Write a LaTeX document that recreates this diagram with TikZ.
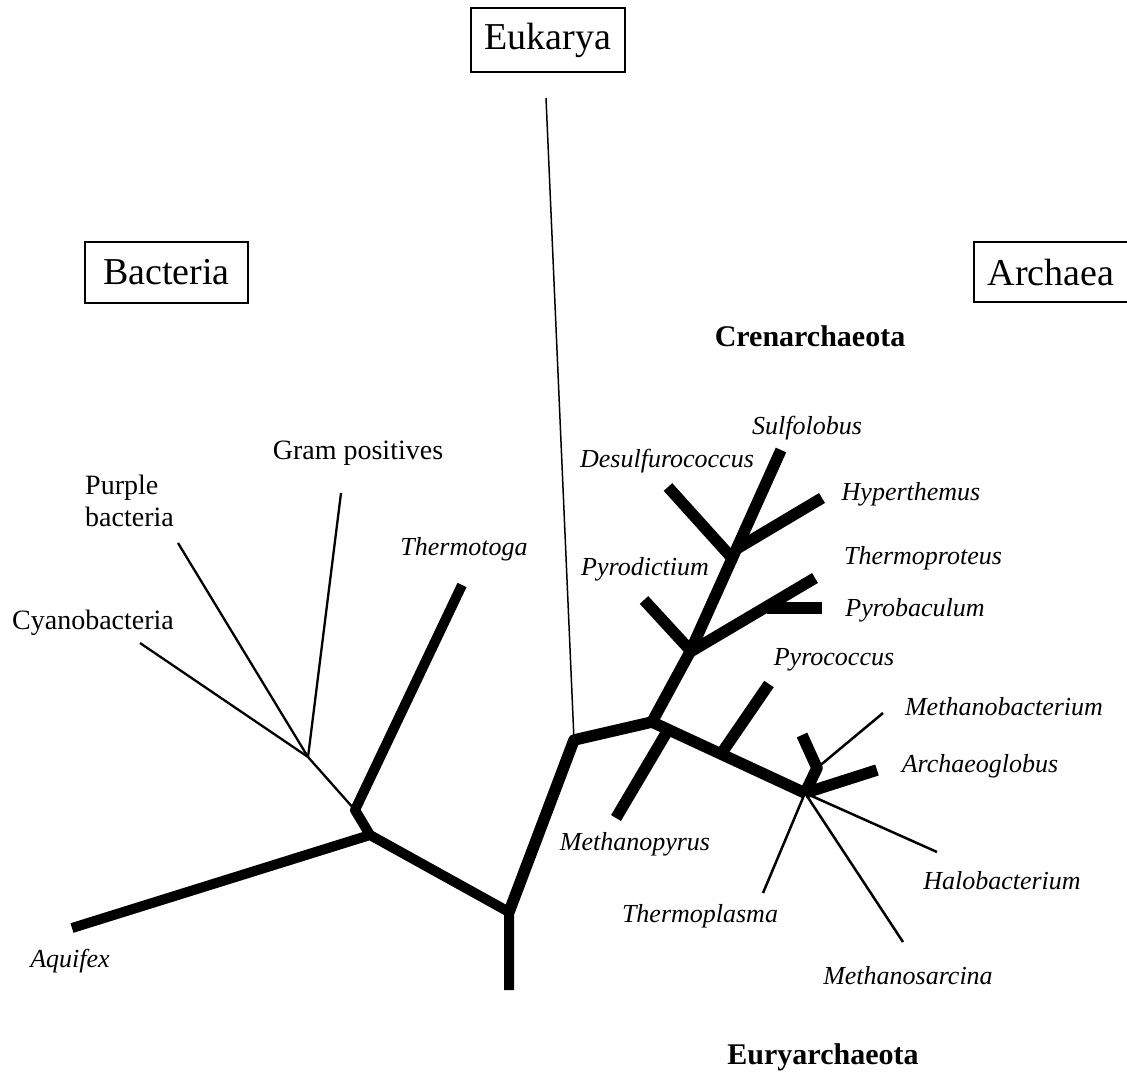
\documentclass[tikz,border=0pt]{standalone}
\usepackage{fontspec}
\setmainfont{Liberation Serif}
\begin{document}
\begin{tikzpicture}[x=1pt,y=-1pt,
  bact/.style={line width=10pt, line cap=butt, line join=round},
  arch/.style={line width=11.5pt, line cap=butt, line join=round},
  thinb/.style={line width=2.3pt, line cap=butt, line join=round},
  domainbox/.style={draw, line width=1.8pt, inner sep=0pt, font=\fontsize{38}{40}\selectfont},
  taxon/.style={inner sep=0pt, font=\fontsize{26}{28}\selectfont\itshape},
  grp/.style={inner sep=0pt, font=\fontsize{28}{32}\selectfont},
  phylum/.style={inner sep=0pt, font=\fontsize{30}{32}\selectfont\bfseries}]
\useasboundingbox (0,0) rectangle (1127,1072);
\clip (0,0) rectangle (1127,1072);

% domain boxes
\node[domainbox, minimum width=154pt, minimum height=64pt] (euk) at (548,40) {Eukarya};
\node[domainbox, minimum width=163pt, minimum height=61pt] (bac) at (166.5,272.5) {Bacteria};
\node[domainbox, minimum width=154pt, minimum height=60pt] (arc) at (1051,272) {Archaea};

% tree points
\coordinate (root) at (509,990);
\coordinate (R) at (509,912);
\coordinate (B1) at (370,835);
\coordinate (B2) at (355,810);
\coordinate (B3) at (308,757);
\coordinate (aqu) at (72,928);
\coordinate (tmt) at (462,585);
\coordinate (cya) at (140,643);
\coordinate (pur) at (178,543);
\coordinate (gram) at (341,493);
\coordinate (eukend) at (546,98);
\coordinate (A0) at (574,740);
\coordinate (A1) at (652,722);
\coordinate (C1) at (690,652);
\coordinate (sul) at (781,450);
\coordinate (pydj) at (690,650);
\coordinate (pyd) at (644,600);
\coordinate (tpr) at (815,578);
\coordinate (pbj) at (767,608);
\coordinate (pba) at (822,608);
\coordinate (desj) at (732,558);
\coordinate (des) at (668,487);
\coordinate (hypj) at (738,548);
\coordinate (hyp) at (822,498);
\coordinate (E1) at (805,793);
\coordinate (mpyj) at (668,730);
\coordinate (mpy) at (616,818);
\coordinate (pcoj) at (721,754);
\coordinate (pco) at (769,684);
\coordinate (agl) at (877,770);
\coordinate (E2) at (817,768);
\coordinate (stub) at (802,735);
\coordinate (mba) at (883,713);
\coordinate (tpl) at (763,893);
\coordinate (msa) at (903,942);
\coordinate (hal) at (937,852);

% Bacteria side
\draw[bact] (aqu) -- (B1) -- (R) -- (root);
\draw[bact] (tmt) -- (B2) -- (B1);
\draw[thinb] (B2) -- (B3) -- (cya);
\draw[thinb] (B3) -- (pur);
\draw[thinb] (B3) -- (gram);

% Eukarya
\draw[line width=1.5pt] (A0) -- (eukend);

% Archaea trunk
\draw[arch] (R) -- (A0) -- (A1) -- (C1) -- (sul);
\draw[arch] (pyd) -- (pydj);
\draw[arch] (C1) -- (tpr);
\draw[arch] (pbj) -- (pba);
\draw[arch] (des) -- (desj);
\draw[arch] (hypj) -- (hyp);
\draw[arch] (A1) -- (E1);
\draw[arch] (mpyj) -- (mpy);
\draw[arch] (pcoj) -- (pco);
\draw[arch] (E1) -- (agl);
\draw[arch] (E1) -- (E2) -- (stub);
\draw[line width=2.5pt] (E2) -- (mba);
\draw[line width=2.5pt] (E1) -- (tpl);
\draw[line width=2.5pt] (E1) -- (msa);
\draw[line width=2.5pt] (E1) -- (hal);

% labels
\node[phylum] (cren) at (810,336) {Crenarchaeota};
\node[phylum] (eury) at (823,1057) {Euryarchaeota};
\node[grp] (gramL) at (358,453) {Gram positives};
\node[grp, align=left, anchor=west] (purL) at (85,501) {Purple\\bacteria};
\node[grp] (cyaL) at (93,623) {Cyanobacteria};
\node[taxon] (tmtL) at (464,549) {Thermotoga};
\node[taxon] (aquL) at (70,961) {Aquifex};
\node[taxon] (desL) at (667,461) {Desulfurococcus};
\node[taxon] (sulL) at (807,428) {Sulfolobus};
\node[taxon] (hypL) at (911,494) {Hyperthemus};
\node[taxon] (tprL) at (923,558) {Thermoproteus};
\node[taxon] (pydL) at (645,569) {Pyrodictium};
\node[taxon] (pbaL) at (915,610) {Pyrobaculum};
\node[taxon] (pcoL) at (834,660) {Pyrococcus};
\node[taxon] (mbaL) at (1004,707) {Methanobacterium};
\node[taxon] (aglL) at (980,766) {Archaeoglobus};
\node[taxon] (mpyL) at (635,844) {Methanopyrus};
\node[taxon] (halL) at (1002,881) {Halobacterium};
\node[taxon] (tplL) at (700,916) {Thermoplasma};
\node[taxon] (msaL) at (908,976) {Methanosarcina};
\end{tikzpicture}
\end{document}
